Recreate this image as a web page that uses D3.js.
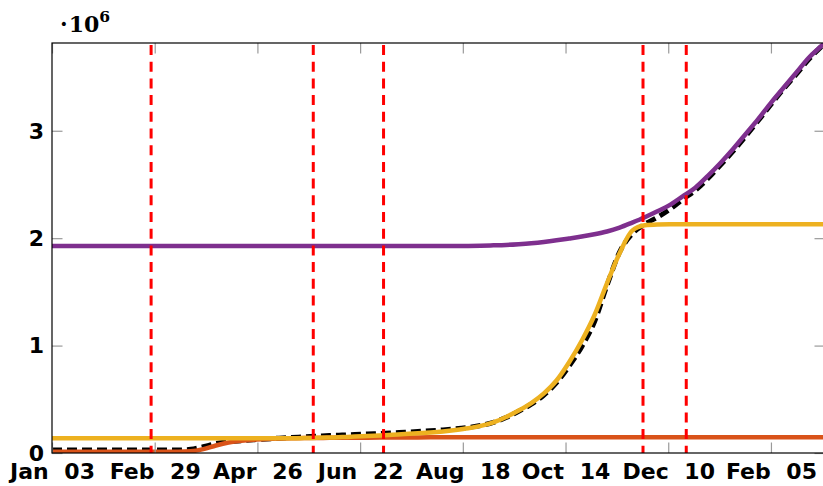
<!DOCTYPE html>
<html>
<head>
<meta charset="utf-8">
<script src="https://cdn.jsdelivr.net/npm/d3@7"></script>
<style>
  html, body { margin: 0; padding: 0; background: #fff; }
  svg { display: block; }
</style>
</head>
<body>
<svg id="chart" width="823" height="486"></svg>
<script>
// Weekly sample dates (Fridays) from 3 Jan 2020
const weekDates = [
  "2020-01-03","2020-01-10","2020-01-17","2020-01-24","2020-01-31","2020-02-07","2020-02-14","2020-02-21",
  "2020-02-28","2020-03-06","2020-03-13","2020-03-20","2020-03-27","2020-04-03","2020-04-10","2020-04-17",
  "2020-04-24","2020-05-01","2020-05-08","2020-05-15","2020-05-22","2020-05-29","2020-06-05","2020-06-12",
  "2020-06-19","2020-06-26","2020-07-03","2020-07-10","2020-07-17","2020-07-24","2020-07-31","2020-08-07",
  "2020-08-14","2020-08-21","2020-08-28","2020-09-04","2020-09-11","2020-09-18","2020-09-25","2020-10-02",
  "2020-10-09","2020-10-16","2020-10-23","2020-10-30","2020-11-06","2020-11-13","2020-11-20","2020-11-27",
  "2020-12-04","2020-12-11","2020-12-18","2020-12-25","2021-01-01","2021-01-08","2021-01-15","2021-01-22",
  "2021-01-29","2021-02-05","2021-02-12","2021-02-19","2021-02-26","2021-03-05","2021-03-12"
];

// Cumulative totals, in millions (axis is labelled ·10^6)
const observed = [
  0.028,0.028,0.028,0.028,0.028,0.028,0.028,0.028,0.028,0.028,0.028,0.034,0.058,0.088,0.104,0.114,
  0.123,0.131,0.138,0.144,0.150,0.156,0.162,0.167,0.172,0.177,0.182,0.188,0.194,0.200,0.207,0.215,
  0.225,0.238,0.256,0.285,0.330,0.388,0.455,0.540,0.655,0.810,0.990,1.220,1.560,1.870,2.040,2.130,
  2.195,2.270,2.360,2.445,2.555,2.680,2.810,2.950,3.095,3.245,3.390,3.525,3.665,3.785,3.895
];
const wave1Fit = [
  0.012,0.012,0.012,0.012,0.012,0.012,0.012,0.012,0.012,0.012,0.012,0.016,0.036,0.070,0.097,0.114,
  0.124,0.130,0.134,0.137,0.139,0.140,0.141,0.142,0.143,0.143,0.144,0.144,0.145,0.145,0.146,0.146,
  0.146,0.146,0.146,0.146,0.146,0.146,0.146,0.146,0.146,0.146,0.146,0.146,0.146,0.146,0.146,0.146,
  0.146,0.146,0.146,0.146,0.146,0.146,0.146,0.146,0.146,0.146,0.146,0.146,0.146,0.146,0.146
];
const wave2Fit = [
  0.138,0.138,0.138,0.138,0.138,0.138,0.138,0.138,0.138,0.138,0.138,0.138,0.138,0.138,0.138,0.138,
  0.138,0.138,0.138,0.138,0.139,0.141,0.144,0.148,0.153,0.158,0.164,0.170,0.176,0.183,0.191,0.201,
  0.214,0.230,0.252,0.285,0.335,0.395,0.465,0.555,0.675,0.845,1.045,1.280,1.580,1.860,2.070,2.120,
  2.128,2.130,2.130,2.130,2.130,2.130,2.130,2.130,2.130,2.130,2.130,2.130,2.130,2.130,2.130
];
const wave3Fit = [
  1.927,1.927,1.927,1.927,1.927,1.927,1.927,1.927,1.927,1.927,1.927,1.927,1.927,1.927,1.927,1.927,
  1.927,1.927,1.927,1.927,1.927,1.927,1.927,1.927,1.927,1.927,1.927,1.927,1.927,1.927,1.927,1.927,
  1.927,1.928,1.930,1.933,1.937,1.944,1.953,1.965,1.980,1.997,2.015,2.036,2.062,2.098,2.145,2.195,
  2.250,2.310,2.390,2.470,2.580,2.700,2.830,2.970,3.110,3.260,3.400,3.540,3.680,3.790,3.910
];

// Vertical event markers
const eventDates = ["2020-02-27","2020-05-27","2020-07-05","2020-11-26","2020-12-20"];

// Axis ticks
const xTickDates  = ["2020-01-03","2020-02-29","2020-04-26","2020-06-22","2020-08-18","2020-10-14","2020-12-10","2021-02-05"];
const xTickLabels = ["Jan 03","Feb 29","Apr 26","Jun 22","Aug 18","Oct 14","Dec 10","Feb 05"];
const yTickValues = [0, 1, 2, 3];
const yTickLabels = ["0", "1", "2", "3"];

const parse = d3.utcParse("%Y-%m-%d");
const plot = { left: 52, top: 43, right: 825, bottom: 453 };

const x = d3.scaleUtc()
  .domain([parse("2020-01-03"), parse("2021-03-07")])
  .range([plot.left, plot.right]);
const y = d3.scaleLinear()
  .domain([0, 3.817])
  .range([plot.bottom, plot.top]);

const svg = d3.select("#chart");

svg.append("defs").append("clipPath").attr("id", "plotClip")
  .append("rect")
  .attr("x", plot.left).attr("y", plot.top)
  .attr("width", plot.right - plot.left).attr("height", plot.bottom - plot.top);

const area = svg.append("g").attr("clip-path", "url(#plotClip)");

const line = d3.line()
  .x(d => x(d[0]))
  .y(d => y(d[1]))
  .curve(d3.curveMonotoneX);

const pairs = vals => weekDates.map((d, i) => [parse(d), vals[i]]);

// measured data underneath the fitted curves
area.append("path")
  .attr("d", line(pairs(observed)))
  .attr("fill", "none")
  .attr("stroke", "#000")
  .attr("stroke-width", 5)
  .attr("stroke-dasharray", "10,5");

const fits = [
  { vals: wave1Fit, color: "#D95319" },
  { vals: wave2Fit, color: "#EDB120" },
  { vals: wave3Fit, color: "#7E2F8E" }
];
fits.forEach(f => {
  area.append("path")
    .attr("d", line(pairs(f.vals)))
    .attr("fill", "none")
    .attr("stroke", f.color)
    .attr("stroke-width", 4.5)
    .attr("stroke-linejoin", "round");
});

// event markers
area.selectAll("line.event")
  .data(eventDates)
  .join("line")
  .attr("class", "event")
  .attr("x1", d => x(parse(d))).attr("x2", d => x(parse(d)))
  .attr("y1", plot.top).attr("y2", plot.bottom)
  .attr("stroke", "#ff0000")
  .attr("stroke-width", 3)
  .attr("stroke-dasharray", "10,6.7")
  .attr("stroke-dashoffset", 14.7);

// ticks (inside, on all four sides)
const tickLen = 10.5;
const tickColor = "#9a9a9a";
const xVals = xTickDates.map(parse);

const gBottom = svg.append("g").attr("transform", `translate(0,${plot.bottom})`)
  .call(d3.axisBottom(x).tickValues(xVals).tickSizeInner(-tickLen).tickSizeOuter(0)
        .tickPadding(10).tickFormat((d, i) => xTickLabels[i]));
const gTop = svg.append("g").attr("transform", `translate(0,${plot.top})`)
  .call(d3.axisTop(x).tickValues(xVals).tickSizeInner(-tickLen).tickSizeOuter(0).tickFormat(""));
const gLeft = svg.append("g").attr("transform", `translate(${plot.left},0)`)
  .call(d3.axisLeft(y).tickValues(yTickValues).tickSizeInner(-tickLen).tickSizeOuter(0)
        .tickPadding(8).tickFormat((d, i) => yTickLabels[i]));
const gRight = svg.append("g").attr("transform", `translate(${plot.right},0)`)
  .call(d3.axisRight(y).tickValues(yTickValues).tickSizeInner(-tickLen).tickSizeOuter(0).tickFormat(""));

[gBottom, gTop, gLeft, gRight].forEach(g => {
  g.select(".domain").remove();
  g.selectAll(".tick line").attr("stroke", tickColor).attr("stroke-width", 1.2);
  g.attr("font-family", null).attr("font-size", null);
  g.selectAll("text")
    .attr("fill", "#000")
    .style("font-family", "'DejaVu Sans', sans-serif")
    .style("font-weight", "bold")
    .style("font-size", "22px");
});
gBottom.selectAll("text").style("word-spacing", "8px");
gLeft.selectAll("text").attr("dy", "0.33em");

// plot frame
svg.append("rect")
  .attr("x", plot.left).attr("y", plot.top)
  .attr("width", plot.right - plot.left).attr("height", plot.bottom - plot.top)
  .attr("fill", "none")
  .attr("stroke", "#000")
  .attr("stroke-width", 1.2);

// scale factor label
const scaleLabel = svg.append("text")
  .attr("x", 60).attr("y", 31.5)
  .style("font-family", "'DejaVu Serif', serif")
  .style("font-weight", "bold")
  .style("font-size", "22px")
  .attr("fill", "#000");
scaleLabel.append("tspan").text("\u00B7");
scaleLabel.append("tspan").attr("dx", 1).text("10");
scaleLabel.append("tspan").attr("dy", -10).style("font-size", "15.5px").text("6");
</script>
</body>
</html>
